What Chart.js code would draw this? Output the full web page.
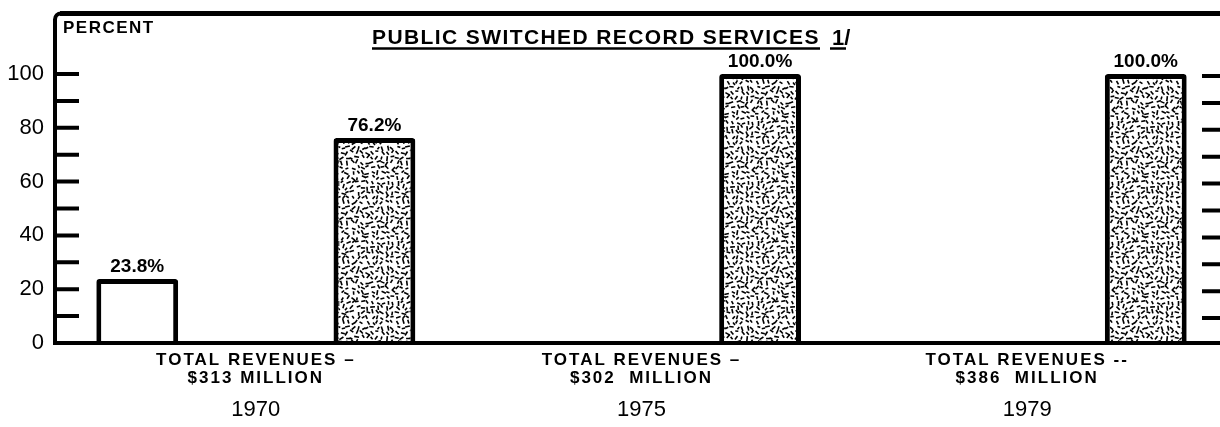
<!DOCTYPE html>
<html>
<head>
<meta charset="utf-8">
<script src="https://cdn.jsdelivr.net/npm/chart.js@4.4.1/dist/chart.umd.min.js"></script>
<style>
    html, body { margin: 0; padding: 0; background: #fff; }
    #wrap { position: relative; width: 1220px; height: 427px; }
</style>
</head>
<body>
<div id="wrap"><canvas id="recordChart"></canvas></div>
<script>
// Values
const years = ['1970', '1975', '1979'];
const revenueLabels = [
    ['TOTAL REVENUES \u2013', '$313 MILLION'],
    ['TOTAL REVENUES \u2013', '$302  MILLION'],
    ['TOTAL REVENUES --', '$386  MILLION']
];
const openBarShare = [23.8, null, null];          // white bar
const stippledBarShare = [76.2, 100.0, 100.0];    // stippled bar
const yTickValues = [0, 20, 40, 60, 80, 100];
const tickMarkValues = [10, 20, 30, 40, 50, 60, 70, 80, 90, 100];
const chartTitle = 'PUBLIC SWITCHED RECORD SERVICES';
const titleNote = '1/';
const yAxisTitle = 'PERCENT';

const FONT = "'Liberation Sans', Arial, Helvetica, sans-serif";
const INK = '#000';

/**
 * Build the dashed stipple fill used by the shaded bars
 */
function makeStipple(ctx) {
    const size = 60;
    const cell = 5;
    const tile = document.createElement('canvas');
    tile.width = size;
    tile.height = size;
    const g = tile.getContext('2d');
    g.fillStyle = '#fff';
    g.fillRect(0, 0, size, size);
    g.strokeStyle = INK;
    g.lineWidth = 1.6;
    g.lineCap = 'butt';

    // seeded so the texture is the same every run
    let seed = 97531;
    const rnd = () => {
        seed = (seed * 16807) % 2147483647;
        return seed / 2147483647;
    };

    // one short dash per cell, jittered, random direction
    for (let cy = 0; cy < size; cy += cell) {
        for (let cx = 0; cx < size; cx += cell) {
            const x = cx + 1 + rnd() * (cell - 2);
            const y = cy + 1 + rnd() * (cell - 2);
            const a = rnd() * Math.PI;
            const len = 3 + rnd() * 2;
            const dx = Math.cos(a) * len / 2;
            const dy = Math.sin(a) * len / 2;
            for (const ox of [-size, 0, size]) {
                for (const oy of [-size, 0, size]) {
                    g.beginPath();
                    g.moveTo(x - dx + ox, y - dy + oy);
                    g.lineTo(x + dx + ox, y + dy + oy);
                    g.stroke();
                }
            }
        }
    }
    return ctx.createPattern(tile, 'repeat');
}

/**
 * Frame, tick marks, title and "PERCENT" caption
 */
const framePlugin = {
    id: 'frame',
    beforeDraw(chart) {
        // spacing for the category labels (drawn before the datasets)
        chart.ctx.letterSpacing = '2px';
    },
    beforeDatasetsDraw(chart) {
        chart.ctx.letterSpacing = '0px';
    },
    afterDraw(chart) {
        const { ctx, scales: { y } } = chart;
        const axisX = 55;
        const topY = 13.5;
        const right = chart.width;
        const baseY = y.getPixelForValue(0);

        ctx.save();
        ctx.letterSpacing = '0px';
        ctx.strokeStyle = INK;
        ctx.lineCap = 'butt';

        // top rule
        ctx.lineWidth = 5;
        ctx.beginPath();
        ctx.moveTo(axisX + 5, topY);
        ctx.lineTo(right, topY);
        ctx.stroke();

        // left axis with rounded corner
        ctx.lineWidth = 4;
        ctx.beginPath();
        ctx.moveTo(axisX, baseY);
        ctx.lineTo(axisX, topY + 6);
        ctx.arcTo(axisX, topY, axisX + 6, topY, 6);
        ctx.stroke();

        // baseline
        ctx.beginPath();
        ctx.moveTo(axisX - 2, baseY);
        ctx.lineTo(right, baseY);
        ctx.stroke();

        // tick marks on both sides
        tickMarkValues.forEach(v => {
            const py = y.getPixelForValue(v);
            ctx.beginPath();
            ctx.moveTo(axisX, py);
            ctx.lineTo(axisX + 24, py);
            ctx.moveTo(right - 18, py + 2);
            ctx.lineTo(right, py + 2);
            ctx.stroke();
        });

        ctx.fillStyle = INK;
        ctx.textBaseline = 'alphabetic';
        ctx.textAlign = 'left';

        // PERCENT caption
        ctx.font = `bold 17px ${FONT}`;
        ctx.letterSpacing = '1.5px';
        ctx.fillText(yAxisTitle, 63, 33);

        // title, underlined
        const titleLeft = 372;
        const titleRight = 820;
        ctx.font = `bold 21px ${FONT}`;
        ctx.letterSpacing = '0px';
        const natural = ctx.measureText(chartTitle).width;
        const spacing = (titleRight - titleLeft - natural) / chartTitle.length;
        ctx.letterSpacing = spacing.toFixed(2) + 'px';
        ctx.fillText(chartTitle, titleLeft, 44);
        ctx.lineWidth = 2.5;
        ctx.beginPath();
        ctx.moveTo(titleLeft, 48.5);
        ctx.lineTo(titleRight, 48.5);
        ctx.stroke();

        ctx.letterSpacing = '0px';
        ctx.font = `bold 22px ${FONT}`;
        ctx.fillText(titleNote, 832, 45);
        ctx.beginPath();
        ctx.moveTo(830, 48.5);
        ctx.lineTo(846, 48.5);
        ctx.stroke();

        ctx.restore();
    }
};

/**
 * Percent labels above each bar
 */
const valueLabelPlugin = {
    id: 'valueLabels',
    afterDatasetsDraw(chart) {
        const { ctx } = chart;
        ctx.save();
        ctx.letterSpacing = '0px';
        ctx.font = `bold 19px ${FONT}`;
        ctx.fillStyle = INK;
        ctx.textAlign = 'center';
        ctx.textBaseline = 'alphabetic';
        chart.data.datasets.forEach((ds, i) => {
            const meta = chart.getDatasetMeta(i);
            meta.data.forEach((bar, j) => {
                const v = ds.data[j];
                if (v === null || v === undefined) return;
                ctx.fillText(v.toFixed(1) + '%', bar.x, bar.y - 7);
            });
        });
        ctx.restore();
    }
};

const canvas = document.getElementById('recordChart');
const ctx = canvas.getContext('2d');
const stipple = makeStipple(ctx);

const barStyle = {
    borderColor: INK,
    borderWidth: 5,
    borderRadius: 3,
    borderSkipped: 'bottom',
    categoryPercentage: 1.23,
    barPercentage: 0.345,
    xAxisID: 'x',
    yAxisID: 'y'
};

new Chart(ctx, {
    type: 'bar',
    data: {
        labels: revenueLabels,
        datasets: [
            { label: 'Open bar', data: openBarShare, backgroundColor: '#fff', ...barStyle },
            { label: 'Stippled bar', data: stippledBarShare, backgroundColor: stipple, ...barStyle }
        ]
    },
    options: {
        responsive: true,
        maintainAspectRatio: false,
        animation: false,
        layout: { padding: { top: 74, left: 0, right: 0, bottom: 0 } },
        plugins: {
            legend: { display: false },
            tooltip: { enabled: false },
            title: { display: false }
        },
        scales: {
            x: {
                position: 'bottom',
                weight: 0,
                grid: { display: false, drawTicks: false },
                border: { display: false },
                ticks: {
                    color: INK,
                    font: { family: FONT, size: 17, weight: 'bold', lineHeight: 1.08 },
                    padding: 8,
                    maxRotation: 0,
                    autoSkip: false
                },
                afterFit: (scale) => { scale.height = 45; }
            },
            x2: {
                type: 'category',
                axis: 'x',
                position: 'bottom',
                weight: 1,
                labels: years,
                offset: true,
                grid: { display: false, drawTicks: false },
                border: { display: false },
                ticks: {
                    color: INK,
                    font: { family: FONT, size: 22 },
                    padding: 9,
                    maxRotation: 0,
                    autoSkip: false,
                    z: 1
                },
                afterFit: (scale) => { scale.height = 39; }
            },
            y: {
                min: 0,
                max: 100,
                grid: { display: false, drawTicks: false },
                border: { display: false },
                afterBuildTicks: (scale) => {
                    scale.ticks = yTickValues.map(v => ({ value: v }));
                },
                ticks: {
                    color: INK,
                    font: { family: FONT, size: 22 },
                    padding: 19,
                    z: 1
                },
                afterFit: (scale) => { scale.width = 63; }
            }
        }
    },
    plugins: [framePlugin, valueLabelPlugin]
});
</script>
</body>
</html>
